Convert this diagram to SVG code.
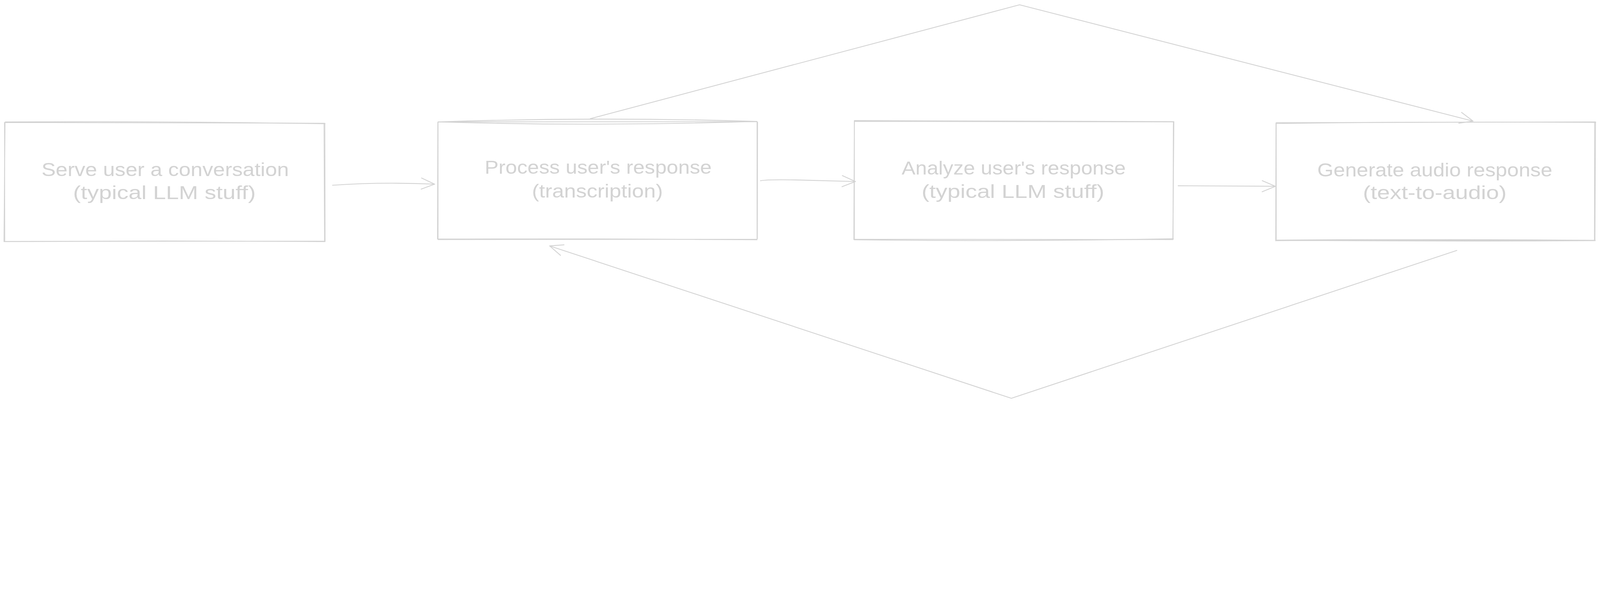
<svg xmlns="http://www.w3.org/2000/svg" width="6034" height="1519" viewBox="0 0 6034 1519" preserveAspectRatio="xMidYMin meet" style="width:100vw;height:100vh;display:block">
  <style>
    .box { fill: none; stroke: #d3d3d3; stroke-width: 3; stroke-linecap: round; stroke-linejoin: round; }
    .conn { fill: none; stroke: #d3d3d3; stroke-width: 3.2; stroke-linecap: round; stroke-linejoin: round; }
    .label { font-family: "Liberation Sans", Arial, sans-serif; font-size: 72px; fill: #d3d3d3; text-anchor: middle; }
  </style>
  <defs>
    <marker id="arrow" markerUnits="userSpaceOnUse" markerWidth="130" markerHeight="130" viewBox="-65 -65 130 130" refX="0" refY="0" orient="auto" overflow="visible">
      <path d="M-50 -21 L0 0 L-50 21" fill="none" stroke="#d3d3d3" stroke-width="3.2" stroke-linecap="round" stroke-linejoin="round"/>
    </marker>
  </defs>
  <rect width="6034" height="1519" fill="#ffffff"/>

  <g id="connectors">
    <path id="c-serve-process" class="conn" d="M1254 699 Q1440 686 1639 695" marker-end="url(#arrow)"/>
    <path id="c-process-analyze" class="conn" d="M2868 682 Q2900 676 3040 680 L3226 685" marker-end="url(#arrow)"/>
    <path id="c-analyze-generate" class="conn" d="M4443 701 L4810 703" marker-end="url(#arrow)"/>
    <path id="c-process-generate" class="conn" d="M2226 448 L3845 18 L5555 457" marker-end="url(#arrow)"/>
    <path id="c-generate-process" class="conn" d="M5494 945 L3814 1503 L2073 928" marker-end="url(#arrow)"/>
  </g>

  <g id="node-serve">
    <path class="box" d="M17 462 L1225 465 L1226 910 L18 911 Z"/>
    <path class="box" d="M20 460 Q620 457 1226 467 M1222 466 L1224 908 M1226 912 Q620 907 15 912 M15 911 L19 463"/>
    <text class="label" x="623" y="665" textLength="933" lengthAdjust="spacingAndGlyphs">Serve user a conversation</text>
    <text class="label" x="620" y="752" textLength="689" lengthAdjust="spacingAndGlyphs">(typical LLM stuff)</text>
  </g>

  <g id="node-process">
    <path class="box" d="M1652 460 L2855 459 L2855 903 L1652 904 Z"/>
    <path class="box" d="M1652 460 Q2250 440 2855 458 Q2250 478 1652 460 M2857 461 L2856 901 M2855 905 Q2250 900 1653 902 M1650 902 L1651 462"/>
    <text class="label" x="2256" y="656" textLength="856" lengthAdjust="spacingAndGlyphs">Process user's response</text>
    <text class="label" x="2253" y="746" textLength="494" lengthAdjust="spacingAndGlyphs">(transcription)</text>
  </g>

  <g id="node-analyze">
    <path class="box" d="M3222 455 L4425 459 L4424 904 L3222 903 Z"/>
    <path class="box" d="M3223 458 Q3820 460 4426 460 M4427 459 L4423 902 M4425 901 Q3820 912 3222 905 M3220 904 L3222 457"/>
    <text class="label" x="3823" y="659" textLength="845" lengthAdjust="spacingAndGlyphs">Analyze user's response</text>
    <text class="label" x="3820" y="747" textLength="689" lengthAdjust="spacingAndGlyphs">(typical LLM stuff)</text>
  </g>

  <g id="node-generate">
    <path class="box" d="M4813 463 L6017 460 L6015 907 L4813 908 Z"/>
    <path class="box" d="M4815 466 Q5400 458 6018 462 M6014 461 L6013 906 M6016 907 Q5400 902 4816 906 Q5400 912 6016 908 M4811 909 L4812 464"/>
    <text class="label" x="5411" y="666" textLength="886" lengthAdjust="spacingAndGlyphs">Generate audio response</text>
    <text class="label" x="5411" y="751" textLength="542" lengthAdjust="spacingAndGlyphs">(text-to-audio)</text>
  </g>
</svg>
